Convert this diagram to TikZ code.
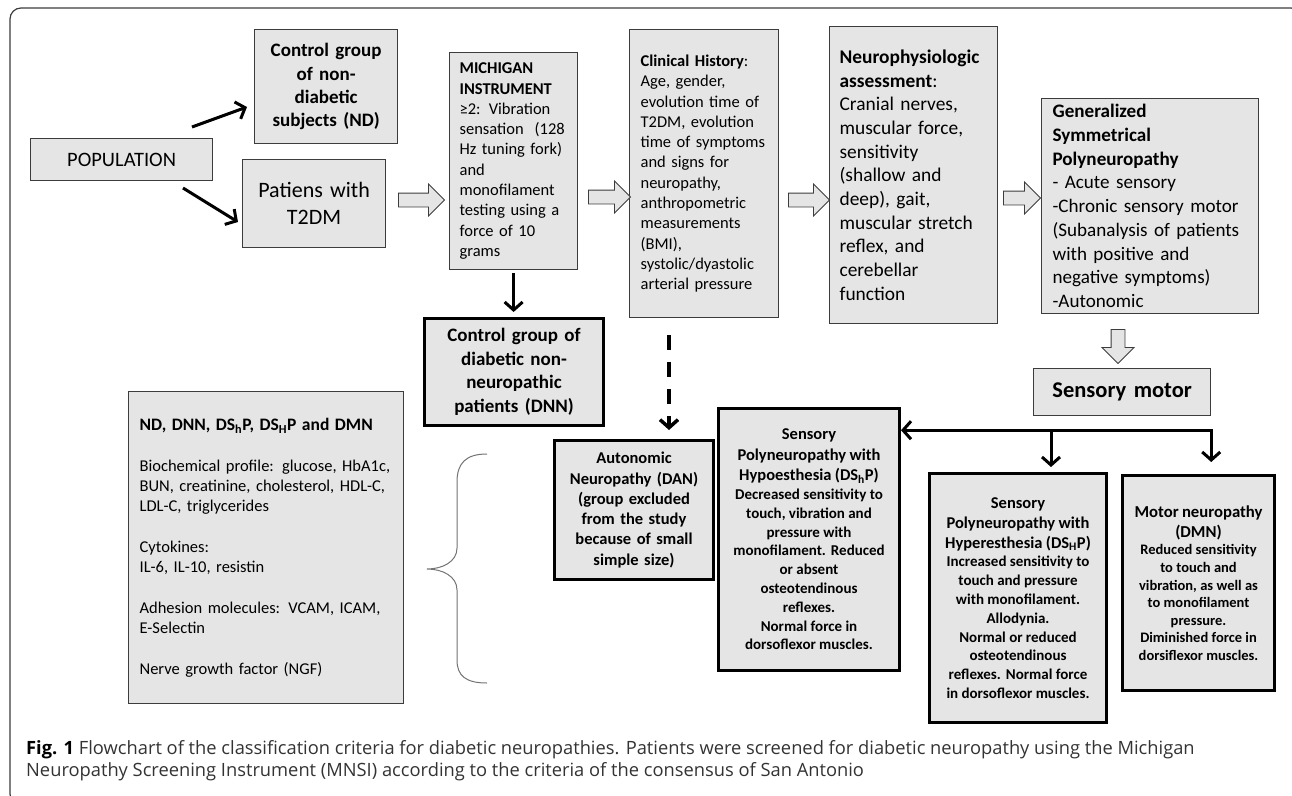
\documentclass[tikz,border=0pt]{standalone}
\usepackage{fontspec}
\setmainfont{Carlito}
\newfontfamily\capfont{Open Sans}
\usetikzlibrary{arrows.meta,shapes.arrows}
\definecolor{boxgray}{RGB}{229,229,229}
\definecolor{edgegray}{RGB}{60,60,60}

\tikzset{
  box/.style={draw=edgegray, line width=1.2pt, fill=boxgray, anchor=north west, inner ysep=0pt},
  heavybox/.style={box, draw=black, line width=3pt},
  hollowarr/.style={single arrow, draw=edgegray, fill=boxgray, line width=0.9pt,
    minimum height=#1, inner sep=6.5pt, single arrow head extend=9pt},
  blkarr/.style={line width=3pt, -{Straight Barb[length=8pt,width=18pt]}},
}

\begin{document}
\begin{tikzpicture}[x=1pt, y=-1pt]
  \useasboundingbox (0,0) rectangle (1292,795);
  % Frame
  \draw[edgegray, line width=1.2pt, rounded corners=11pt] (10,8) rectangle (1302,805);

  % Top row
  \node[box, inner xsep=4pt, text width=174pt, minimum height=42pt, align=center,
    font=\fontsize{20.5}{24}\selectfont] (pop) at (30,138) {POPULATION};
  \node[box, inner xsep=4pt, text width=135pt, minimum height=114pt, align=center,
    font=\bfseries\fontsize{19}{23.3}\selectfont] (nd) at (254,29)
    {Control group\\ of non-\\ diabetic\\ subjects (ND)};
  \node[box, inner xsep=4pt, text width=135pt, minimum height=88pt, align=center,
    font=\fontsize{22}{26.7}\selectfont] (t2dm) at (242,159) {Patiens with\\ T2DM};
  \node[box, inner xsep=10pt, text width=108pt, minimum height=217pt, align=left,
    font=\fontsize{16.5}{20.3}\selectfont] (mich) at (449,52)
    {\textbf{MICHIGAN}\\ \textbf{INSTRUMENT}\\ ≥2: Vibration\\ sensation~ (128\\ Hz tuning fork)\\ and\\ monofilament\\ testing using a\\ force of 10\\ grams};
  \node[box, inner xsep=11pt, text width=127pt, minimum height=288pt, align=left,
    font=\fontsize{16.5}{20.3}\selectfont] (clin) at (629,29)
    {\textbf{Clinical History}:\\ Age, gender,\\ evolution time of\\ T2DM, evolution\\ time of symptoms\\ and signs for\\ neuropathy,\\ anthropometric\\ measurements\\ (BMI),\\ systolic/dyastolic\\ arterial pressure};
  \node[box, inner xsep=10pt, text width=148pt, minimum height=297pt, align=left,
    font=\fontsize{19.4}{23.7}\selectfont] (neuro) at (829,26)
    {\textbf{Neurophysiologic}\\ \textbf{assessment}:\\ Cranial nerves,\\ muscular force,\\ sensitivity\\ (shallow and\\ deep), gait,\\ muscular stretch\\ reflex, and\\ cerebellar\\ function};
  \node[box, inner xsep=11pt, text width=195pt, minimum height=215pt, align=left,
    font=\fontsize{19.1}{23.75}\selectfont] (gen) at (1041,98)
    {\textbf{Generalized}\\ \textbf{Symmetrical}\\ \textbf{Polyneuropathy}\\ - Acute sensory\\ -Chronic sensory motor\\ (Subanalysis of patients\\ with positive and\\ negative symptoms)\\ -Autonomic};

  % Hollow arrows
  \node[hollowarr=46pt] (h1) at (418,200) {};
  \node[hollowarr=42pt] (h2) at (606,197) {};
  \node[hollowarr=41pt] (h3) at (805.5,200) {};
  \node[hollowarr=37pt] (h4) at (1018.5,198) {};
  \node[hollowarr=34pt, shape border rotate=270] (h5) at (1118,343) {};

  % Lower boxes
  \node[heavybox, inner xsep=4pt, text width=171pt, minimum height=107pt, align=center,
    font=\bfseries\fontsize{19}{23.5}\selectfont] (dnn) at (423,317)
    {Control group of\\ diabetic non-\\ neuropathic\\ patients (DNN)};
  \node[heavybox, inner xsep=4pt, text width=151pt, minimum height=139pt, align=center,
    font=\bfseries\fontsize{16.5}{20.3}\selectfont] (dan) at (553,439)
    {Autonomic\\ Neuropathy (DAN)\\ (group excluded\\ from the study\\ because of small\\ simple size)};
  \node[heavybox, inner xsep=3pt, text width=175pt, minimum height=262pt, align=center,
    font=\bfseries] (dshp) at (717,407)
    {{\fontsize{16.5}{20.5}\selectfont Sensory\\ Polyneuropathy with\\ Hypoesthesia (DS\textsubscript{h}P)\par}
     \fontsize{15}{18.8}\selectfont Decreased sensitivity to\\ touch, vibration and\\ pressure with\\ monofilament. Reduced\\ or absent\\ osteotendinous\\ reflexes.\\ Normal force in\\ dorsoflexor muscles.\par};
  \node[box, inner xsep=4pt, text width=169pt, minimum height=47pt, align=center,
    font=\bfseries\fontsize{22.5}{26}\selectfont] (smotor) at (1033,368) {Sensory motor};
  \node[heavybox, inner xsep=3pt, text width=171pt, minimum height=249pt, align=center,
    font=\bfseries] (dsHp) at (928,472)
    {{\fontsize{16.5}{20}\selectfont Sensory\\ Polyneuropathy with\\ Hyperesthesia (DS\textsubscript{H}P)\par}
     \fontsize{15}{18.8}\selectfont Increased sensitivity to\\ touch and pressure\\ with monofilament.\\ Allodynia.\\ Normal or reduced\\ osteotendinous\\ reflexes. Normal force\\ in dorsoflexor muscles.\par};
  \node[heavybox, inner xsep=3pt, text width=146pt, minimum height=215pt, align=center,
    font=\bfseries] (dmn) at (1121,474)
    {{\fontsize{16.7}{20}\selectfont Motor neuropathy\\ (DMN)\par}
     \fontsize{14.5}{17.6}\selectfont Reduced sensitivity\\ to touch and\\ vibration, as well as\\ to monofilament\\ pressure.\\ Diminished force in\\ dorsiflexor muscles.\par};

  % Measured variables
  \node[box, inner xsep=11pt, text width=253pt, minimum height=312pt, align=left,
    font=\fontsize{16.5}{20.3}\selectfont] (vars) at (128,391)
    {{\bfseries\fontsize{17.5}{20.3}\selectfont ND, DNN, DS\textsubscript{h}P, DS\textsubscript{H}P and DMN}\\[20.3pt]
     Biochemical profile: glucose, HbA1c,\\ BUN, creatinine, cholesterol, HDL-C,\\ LDL-C, triglycerides\\[20.3pt]
     Cytokines:\\ IL-6, IL-10, resistin\\[20.3pt]
     Adhesion molecules: VCAM, ICAM,\\ E-Selectin\\[20.3pt]
     Nerve growth factor (NGF)};
  \draw[black!55, line width=1pt] (487,454) .. controls (466,454) and (457,463) .. (457,482)
    -- (457,548) .. controls (457,562) and (442,569) .. (427,569)
    .. controls (442,569) and (457,576) .. (457,590)
    -- (457,660) .. controls (457,676) and (466,683) .. (487,683);

  % Black arrows
  \coordinate (popA) at (192,127);
  \coordinate (popB) at (183,188);
  \coordinate (dashtop) at (669,335);
  \coordinate (forkR) at ([yshift=-14pt]smotor.south east);
  \coordinate (forkM) at (1051,429);
  \draw[blkarr] (popA) -- (247,107);
  \draw[blkarr] (popB) -- (238,222);
  \draw[blkarr, shorten <=3pt, shorten >=5pt] (mich.south) -- (mich.south |- dnn.north);
  \draw[blkarr, dash pattern=on 15pt off 12pt, line width=3.5pt] (dashtop) -- (dashtop |- 0,430);
  \draw[line width=3pt, {Straight Barb[length=8pt,width=18pt]}-{Straight Barb[length=8pt,width=18pt]}]
    (forkR -| dshp.east) -- (forkR) -- ([yshift=12pt]dmn.north -| forkR);
  \draw[blkarr, shorten >=5pt] (forkM) -- (forkM |- dsHp.north);

  % Caption
  \node[anchor=north west, inner sep=0pt, align=left, text=black!80,
    font=\capfont\fontsize{18.3}{22}\selectfont] (cap) at (26,740)
    {\textbf{\color{black}Fig. 1} Flowchart of the classification criteria for diabetic neuropathies. Patients were screened for diabetic neuropathy using the Michigan\\
     Neuropathy Screening Instrument (MNSI) according to the criteria of the consensus of San Antonio};
\end{tikzpicture}
\end{document}
